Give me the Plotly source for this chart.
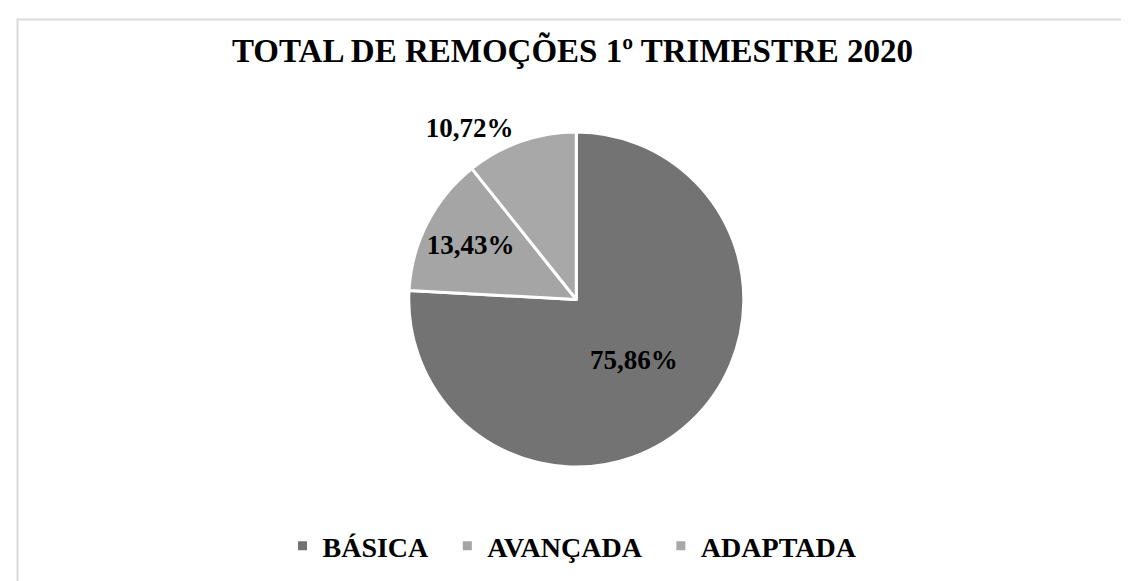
import plotly.graph_objects as go

categories = ["BÁSICA", "AVANÇADA", "ADAPTADA"]
values = [75.86, 13.43, 10.72]
label_texts = ["75,86%", "13,43%", "10,72%"]
colors = ["#737373", "#a5a5a5", "#a8a8a8"]
title_text = "TOTAL DE REMOÇÕES 1º TRIMESTRE 2020"

W, H = 1129, 581
FONT = "Liberation Serif, Times New Roman, serif"

NB = "\u00a0"
legend_names = ["<b>" + c + "</b>" + NB * 2 for c in categories[:-1]] + ["<b>" + categories[-1] + "</b>"]

fig = go.Figure(go.Pie(
    labels=legend_names,
    values=values,
    text=label_texts,
    textinfo="text",
    texttemplate="<b>%{text}</b>",
    textposition=["inside", "inside", "outside"],
    insidetextorientation="horizontal",
    sort=False,
    direction="clockwise",
    rotation=0,
    marker=dict(colors=colors, line=dict(color="white", width=3)),
    textfont=dict(family=FONT, size=27, color="black"),
    domain=dict(x=[0.2 - 7.5 / W, 0.82 - 7.5 / W], y=[1 - 459 / H, 1 - 124 / H]),
    hoverinfo="label+percent",
))

fig.update_layout(
    width=W, height=H,
    margin=dict(l=0, r=0, t=0, b=0),
    paper_bgcolor="white",
    plot_bgcolor="white",
    title=dict(text="<b>" + title_text + "</b>", x=0.5, xanchor="center",
               y=1 - 42 / H, yanchor="middle",
               font=dict(family=FONT, size=33, color="black")),
    showlegend=True,
    legend=dict(orientation="h", x=0.5, xanchor="center", y=1 - 538 / H, yanchor="middle",
                font=dict(family=FONT, size=28, color="black"),
                itemwidth=30, tracegroupgap=0),
    shapes=[dict(type="rect", xref="paper", yref="paper",
                 x0=9.5 / W, x1=1.05, y0=-0.05, y1=1 - 11.5 / H,
                 line=dict(color="#d9d9d9", width=2), fillcolor="rgba(0,0,0,0)")],
)

fig.write_html("out.html")
